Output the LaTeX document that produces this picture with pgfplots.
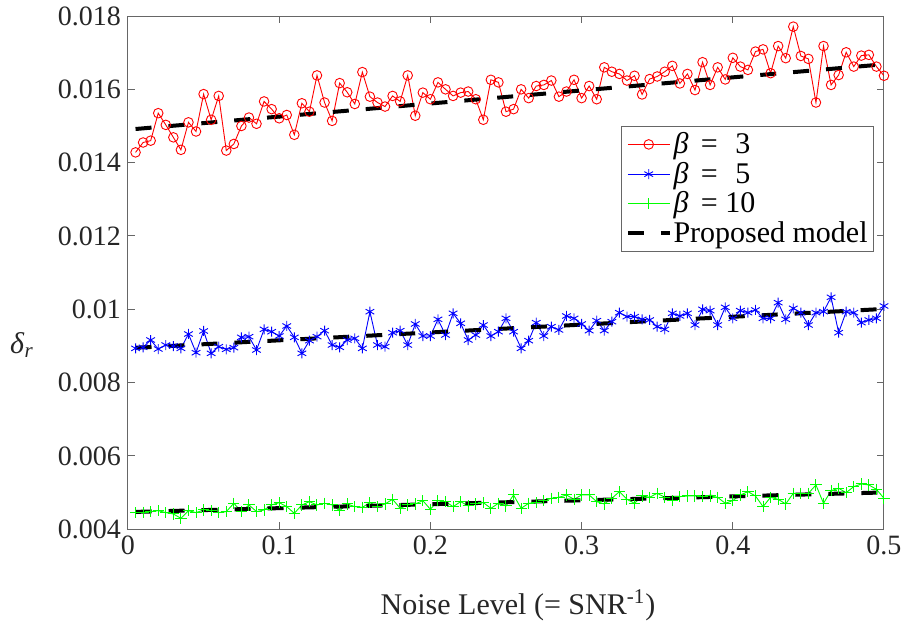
\documentclass[border=0pt]{standalone}
\usepackage{fontspec}
\setmainfont{Liberation Serif}
\newfontfamily\tnr{Liberation Serif}
\usepackage{pgfplots}
\usepackage{pgfplotstable}
\pgfplotsset{compat=1.18}

% noise level, beta=3, beta=5, beta=10
\pgfplotstableread{
x r b g
0.005 0.01428 0.008935 0.004455
0.010 0.01455 0.008963 0.004464
0.015 0.01460 0.009163 0.004482
0.020 0.01535 0.008917 0.004509
0.025 0.01503 0.009026 0.004455
0.030 0.01469 0.008999 0.004418
0.035 0.01435 0.008935 0.004300
0.040 0.01510 0.009327 0.004509
0.045 0.01485 0.008817 0.004455
0.050 0.01587 0.009409 0.004527
0.055 0.01517 0.008799 0.004509
0.060 0.01582 0.008981 0.004455
0.065 0.01433 0.008908 0.004482
0.070 0.01451 0.008954 0.004709
0.075 0.01500 0.009236 0.004482
0.080 0.01523 0.009254 0.004664
0.085 0.01506 0.008890 0.004482
0.090 0.01567 0.009454 0.004527
0.095 0.01546 0.009390 0.004664
0.100 0.01521 0.009272 0.004727
0.105 0.01530 0.009545 0.004618
0.110 0.01476 0.009236 0.004436
0.115 0.01562 0.008799 0.004664
0.120 0.01539 0.009145 0.004754
0.125 0.01638 0.009254 0.004664
0.130 0.01564 0.009418 0.004709
0.135 0.01514 0.009026 0.004664
0.140 0.01617 0.008963 0.004509
0.145 0.01592 0.009163 0.004691
0.150 0.01560 0.009208 0.004618
0.155 0.01647 0.008935 0.004600
0.160 0.01580 0.009936 0.004727
0.165 0.01564 0.009026 0.004618
0.170 0.01553 0.008981 0.004691
0.175 0.01582 0.009363 0.004818
0.180 0.01567 0.009418 0.004573
0.185 0.01638 0.009026 0.004664
0.190 0.01528 0.009600 0.004691
0.195 0.01591 0.009272 0.004782
0.200 0.01573 0.009272 0.004545
0.205 0.01619 0.009727 0.004782
0.210 0.01600 0.009299 0.004754
0.215 0.01582 0.009891 0.004618
0.220 0.01591 0.009618 0.004754
0.225 0.01594 0.009163 0.004636
0.230 0.01573 0.009299 0.004691
0.235 0.01517 0.009572 0.004727
0.240 0.01626 0.009272 0.004573
0.245 0.01619 0.009390 0.004709
0.250 0.01539 0.009754 0.004636
0.255 0.01546 0.009390 0.004936
0.260 0.01600 0.008935 0.004573
0.265 0.01576 0.009145 0.004709
0.270 0.01609 0.009636 0.004727
0.275 0.01612 0.009272 0.004782
0.280 0.01624 0.009527 0.004845
0.285 0.01580 0.009436 0.004873
0.290 0.01594 0.009818 0.004936
0.295 0.01626 0.009754 0.004818
0.300 0.01576 0.009600 0.004936
0.305 0.01609 0.009418 0.004936
0.310 0.01573 0.009691 0.004754
0.315 0.01660 0.009418 0.004691
0.320 0.01648 0.009663 0.004845
0.325 0.01642 0.009909 0.005027
0.330 0.01624 0.009800 0.004818
0.335 0.01637 0.009800 0.004709
0.340 0.01586 0.009727 0.004909
0.345 0.01628 0.009709 0.004873
0.350 0.01635 0.009527 0.004982
0.355 0.01648 0.009454 0.004873
0.360 0.01664 0.009891 0.004782
0.365 0.01616 0.009818 0.004891
0.370 0.01642 0.009891 0.004909
0.375 0.01598 0.009572 0.004909
0.380 0.01674 0.010000 0.004891
0.385 0.01612 0.009964 0.004909
0.390 0.01660 0.009572 0.004873
0.395 0.01627 0.010055 0.004709
0.400 0.01686 0.009754 0.004782
0.405 0.01662 0.009964 0.004936
0.410 0.01653 0.009909 0.005027
0.415 0.01703 0.009982 0.004909
0.420 0.01709 0.009754 0.004618
0.425 0.01644 0.009754 0.004873
0.430 0.01718 0.010182 0.004818
0.435 0.01685 0.009727 0.004691
0.440 0.01771 0.010027 0.004982
0.445 0.01691 0.009909 0.004982
0.450 0.01683 0.009572 0.004982
0.455 0.01564 0.009909 0.005209
0.460 0.01718 0.009936 0.004709
0.465 0.01612 0.010328 0.005054
0.470 0.01639 0.009363 0.005118
0.475 0.01701 0.009936 0.005000
0.480 0.01662 0.009909 0.005164
0.485 0.01692 0.009636 0.005236
0.490 0.01694 0.009709 0.005209
0.495 0.01662 0.009754 0.005091
0.500 0.01637 0.010091 0.004845
}\noisedata

\begin{document}
\begin{tikzpicture}
\useasboundingbox (-64pt,-46.35pt) rectangle (386.5pt,264.65pt);
\begin{axis}[
  scale only axis, width=378pt, height=256.65pt,
  xmin=0, xmax=0.5, ymin=0.004, ymax=0.018,
  xtick={0,0.1,0.2,0.3,0.4,0.5},
  xticklabels={0,0.1,0.2,0.3,0.4,0.5},
  ytick={0.004,0.006,0.008,0.01,0.012,0.014,0.016,0.018},
  yticklabels={0.004,0.006,0.008,0.01,0.012,0.014,0.016,0.018},
  scaled y ticks=false,
  tick align=inside, major tick length=3.5pt,
  axis line style={black!60, line width=0.5pt},
  every tick/.style={black!60, line width=0.5pt},
  tick label style={font=\tnr\fontsize{14}{16}\selectfont, text=black!85},
  xlabel={Noise Level (= SNR\textsuperscript{-1})},
  every axis x label/.style={at={(axis description cs:0.5,0)}, anchor=center,
    yshift=-38pt, xshift=6pt, font=\tnr\fontsize{15}{17}\selectfont, text=black!85},
  ylabel={\textit{δ}\textsubscript{\textit{r}}},
  every axis y label/.style={at={(axis description cs:0,0.359)}, anchor=center,
    xshift=-53pt, font=\tnr\fontsize{15}{17}\selectfont, text=black!85},
  legend cell align=left,
  legend style={at={(axis description cs:0.987,0.786)}, anchor=north east,
    draw=black!60, line width=0.5pt, fill=white,
    font=\tnr\fontsize{15}{17}\selectfont, inner xsep=2pt, inner ysep=1pt,
    row sep=-1.2pt, nodes={inner xsep=1pt}},
  legend image code/.code={\draw[mark repeat=2,mark phase=2,#1] plot coordinates {(0pt,0pt) (10.4pt,0pt) (20.8pt,0pt)};},
]
\addplot[red, line width=0.45pt, mark=o, mark size=2.4pt, mark options={line width=0.45pt}]
  table[x=x, y=r] {\noisedata};
\addlegendentry{\textit{β}\, = \hspace{5pt}3}
\addplot[blue, line width=0.45pt, mark=asterisk, mark size=2.5pt, mark options={line width=0.45pt}]
  table[x=x, y=b] {\noisedata};
\addlegendentry{\textit{β}\, = \hspace{5pt}5}
\addplot[green, line width=0.45pt, mark=+, mark size=2.8pt, mark options={line width=0.5pt}]
  table[x=x, y=g] {\noisedata};
\addlegendentry{\textit{β}\, = 10}
% proposed model
\addplot[black, line width=2pt, dash pattern=on 8pt off 8.5pt] coordinates {(0.005,0.014918) (0.5,0.016683)};
\addlegendentry{Proposed model}
\addplot[black, line width=2pt, dash pattern=on 8pt off 8.5pt, forget plot] coordinates {(0.005,0.008951) (0.5,0.01001)};
\addplot[black, line width=2pt, dash pattern=on 8pt off 8.5pt, forget plot] coordinates {(0.005,0.004475) (0.5,0.005005)};
\end{axis}
\end{tikzpicture}
\end{document}
